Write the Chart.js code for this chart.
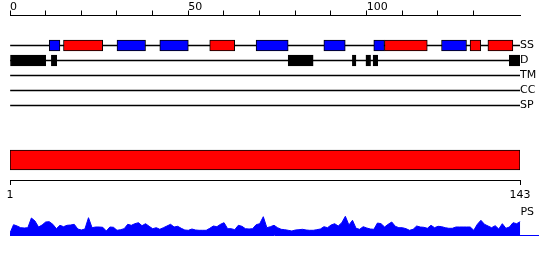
<!DOCTYPE html>
<html>
<head>
<meta charset="utf-8">
<script src="https://cdn.jsdelivr.net/npm/chart.js@4.4.0/dist/chart.umd.min.js"></script>
<style>
    html, body { margin: 0; padding: 0; background: #fff; }
    #wrap { position: relative; width: 550px; height: 260px; }
    #wrap canvas { position: absolute; left: 0; top: 0; }
</style>
</head>
<body>
<div id="wrap">
    <canvas id="tracks-chart" width="550" height="260"></canvas>
    <canvas id="sequence-chart" width="550" height="260"></canvas>
    <canvas id="score-chart" width="550" height="260"></canvas>
</div>
<script>
const seqLength = 143;
const trackRows = ['SS', 'D', 'TM', 'CC', 'SP'];
const strandSegments = [[11, 14], [30, 38], [42, 50], [69, 78], [88, 94], [102, 105], [121, 128]];
const helixSegments = [[15, 26], [56, 63], [105, 117], [129, 132], [134, 141]];
const disorderSegments = [[0, 10], [11.6, 13.1], [78, 85], [96, 97], [99.8, 101.1], [101.8, 103.1], [140, 143]];
const topTickLabels = [0, 50, 100];
const bottomTickLabels = [1, 143];
const psLabel = 'PS';
const psScores = [
    2, 10.3, 9, 7.3, 7, 7.3, 17, 14, 8, 10,
    13, 13.3, 10.7, 6.3, 9.7, 8.3, 9.7, 10, 10.7, 6,
    5, 6, 17.3, 7.3, 8, 8, 7.7, 4, 8, 7.7,
    4.7, 5.3, 6.3, 10.7, 9.7, 11.3, 12.3, 9.3, 11.3, 8.7,
    6.3, 7.3, 5.7, 7.3, 9, 10.7, 8, 8.7, 6.7, 5,
    4.7, 6, 5, 4.7, 4.7, 4.7, 6.7, 9, 8.3, 10.7,
    12.3, 6.3, 6.3, 5.3, 9.7, 8.7, 6.3, 6, 6.3, 10.3,
    11.3, 18.3, 7.3, 8.3, 9.7, 7.3, 5.7, 5.3, 4.7, 4,
    5, 5.3, 5.7, 5, 4.7, 4.7, 5.3, 6, 8.3, 7.3,
    10, 11.3, 9, 12.3, 18.7, 10, 14.7, 6.7, 5.7, 8.3,
    7, 6, 5.7, 12, 11.3, 8, 10.7, 13, 8.7, 7.3,
    7.3, 6.3, 4.7, 5.7, 9, 8, 7.7, 6.7, 9.7, 7.3,
    8.7, 8.3, 7.3, 6.7, 6.7, 8, 8, 8, 8, 8,
    4.7, 10.7, 14.7, 10.7, 9, 7.3, 9.3, 6, 11.3, 6.7,
    8, 12.3, 11.3, 13.3
];

Chart.defaults.font.family = "'DejaVu Sans', sans-serif";
Chart.defaults.font.size = 11;
Chart.defaults.color = '#000';

const noPlugins = {
    legend: { display: false },
    tooltip: { enabled: false }
};

function initCharts() {
    initTracksChart();
    initSequenceChart();
    initScoreChart();
}

function initTracksChart() {
    const ctx = document.getElementById('tracks-chart');
    // two blank rows on top and one below keep the track rows 15px apart
    const rowLabels = ['', ''].concat(trackRows, ['']);
    const toBars = (segments, row) => segments.map(s => ({ x: s, y: row }));

    return new Chart(ctx, {
        type: 'bar',
        data: {
            labels: rowLabels,
            datasets: [
                { data: toBars(strandSegments, 'SS'), backgroundColor: '#0000ff', barThickness: 11 },
                { data: toBars(helixSegments, 'SS'), backgroundColor: '#ff0000', barThickness: 11 },
                { data: toBars(disorderSegments, 'D'), backgroundColor: '#000', barThickness: 11 },
                {
                    data: trackRows.map(r => ({ x: [0, seqLength], y: r })),
                    backgroundColor: '#000',
                    borderWidth: 0,
                    barThickness: 1
                }
            ]
        },
        options: {
            indexAxis: 'y',
            responsive: false,
            animation: false,
            datasets: {
                bar: { grouped: false, borderColor: '#000', borderWidth: 1, borderSkipped: false }
            },
            layout: { padding: { left: 10, right: 0, top: 0, bottom: 139.5 } },
            plugins: noPlugins,
            scales: {
                x: {
                    type: 'linear',
                    position: 'top',
                    min: 0,
                    max: seqLength,
                    afterBuildTicks: s => { s.ticks = s.ticks.filter(t => t.value % 10 === 0); },
                    afterFit: s => { s.height = 15.5; },
                    ticks: {
                        stepSize: 10,
                        autoSkip: false,
                        maxRotation: 0,
                        align: 'start',
                        padding: -3.6,
                        callback: v => topTickLabels.includes(v) ? String(v) : ''
                    },
                    grid: { drawOnChartArea: false, tickLength: 5, color: '#000' },
                    border: { color: '#000' }
                },
                y: {
                    type: 'category',
                    position: 'right',
                    offset: false,
                    afterFit: s => { s.width = 30; },
                    grid: { display: false, drawTicks: false, tickLength: 0 },
                    border: { display: false },
                    ticks: { padding: 0, autoSkip: false }
                }
            }
        }
    });
}

function initSequenceChart() {
    const ctx = document.getElementById('sequence-chart');

    return new Chart(ctx, {
        type: 'bar',
        data: {
            labels: ['sequence'],
            datasets: [{
                data: [[bottomTickLabels[0], seqLength]],
                backgroundColor: '#ff0000',
                borderColor: '#000',
                borderWidth: 1,
                borderSkipped: false,
                barThickness: 20
            }]
        },
        options: {
            indexAxis: 'y',
            responsive: false,
            animation: false,
            layout: { padding: { left: 10, right: 30, top: 140, bottom: 50 } },
            plugins: noPlugins,
            scales: {
                x: {
                    type: 'linear',
                    position: 'bottom',
                    min: bottomTickLabels[0],
                    max: seqLength,
                    afterBuildTicks: s => { s.ticks = bottomTickLabels.map(v => ({ value: v })); },
                    afterFit: s => { s.height = 30; },
                    ticks: { padding: 4, maxRotation: 0, autoSkip: false },
                    grid: { drawOnChartArea: false, tickLength: 5, color: '#000' },
                    border: { color: '#000' }
                },
                y: { display: false }
            }
        }
    });
}

function initScoreChart() {
    const ctx = document.getElementById('score-chart');

    return new Chart(ctx, {
        type: 'line',
        data: {
            datasets: [{
                label: psLabel,
                data: psScores.map((v, i) => ({ x: i, y: v })),
                fill: 'origin',
                backgroundColor: '#0000ff',
                borderColor: '#0000ff',
                borderWidth: 1,
                pointRadius: 0,
                tension: 0
            }]
        },
        options: {
            responsive: false,
            animation: false,
            layout: { padding: { left: 10, right: 12, top: 210, bottom: 25 } },
            plugins: noPlugins,
            scales: {
                x: {
                    type: 'linear',
                    min: 0,
                    max: 148,
                    afterFit: s => { s.height = 0; },
                    ticks: { display: false },
                    grid: { display: false, drawTicks: false },
                    border: { color: '#0000ff' }
                },
                y: {
                    position: 'right',
                    min: 0,
                    max: 25,
                    afterFit: s => { s.width = 0; },
                    afterBuildTicks: s => { s.ticks = [{ value: 23 }]; },
                    ticks: { mirror: true, padding: -4, callback: () => psLabel },
                    grid: { display: false, drawTicks: false },
                    border: { display: false }
                }
            }
        }
    });
}

initCharts();
</script>
</body>
</html>
